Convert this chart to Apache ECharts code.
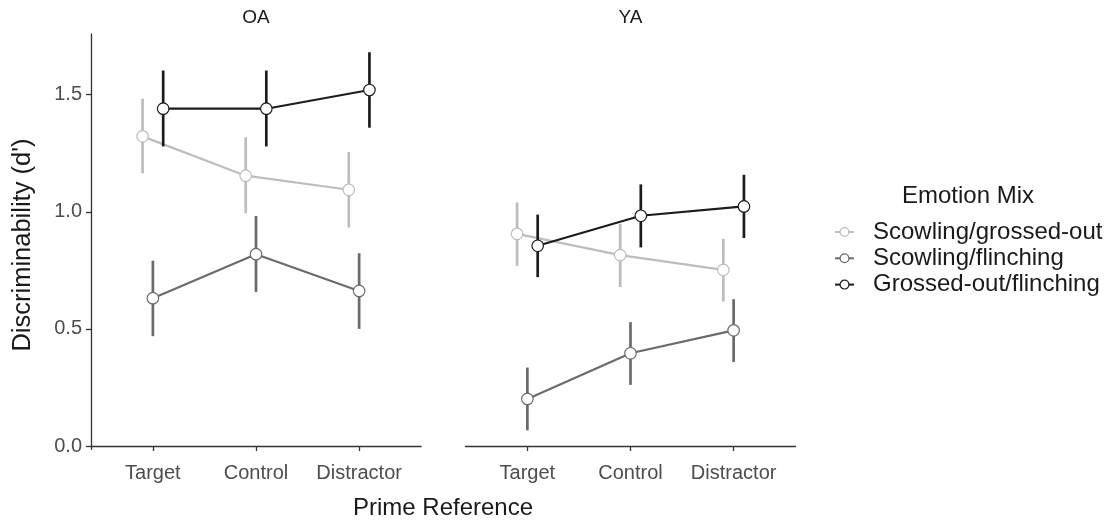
<!DOCTYPE html>
<html>
<head>
<meta charset="utf-8">
<script src="https://cdn.jsdelivr.net/npm/echarts@6/dist/echarts.min.js"></script>
<style>
html,body{margin:0;padding:0;background:#fff;}
#chart{width:1116px;height:523px;}
</style>
</head>
<body>
<div id="chart"></div>
<script>
// ---- data ----
const categories = ['Target', 'Control', 'Distractor'];
const panels = ['OA', 'YA'];
const emotions = ['Scowling/grossed-out', 'Scowling/flinching', 'Grossed-out/flinching'];
const yTicks = [0, 0.5, 1.0, 1.5];

// OA
const oaScowlGross = [1.322, 1.154, 1.094];
const oaScowlGrossLo = [1.164, 0.994, 0.933];
const oaScowlGrossHi = [1.483, 1.318, 1.255];
const oaScowlFlinch = [0.631, 0.819, 0.662];
const oaScowlFlinchLo = [0.469, 0.658, 0.500];
const oaScowlFlinchHi = [0.791, 0.982, 0.823];
const oaGrossFlinch = [1.440, 1.440, 1.520];
const oaGrossFlinchLo = [1.279, 1.279, 1.359];
const oaGrossFlinchHi = [1.603, 1.603, 1.681];
// YA
const yaScowlGross = [0.906, 0.815, 0.752];
const yaScowlGrossLo = [0.769, 0.679, 0.617];
const yaScowlGrossHi = [1.040, 0.949, 0.885];
const yaScowlFlinch = [0.201, 0.396, 0.494];
const yaScowlFlinchLo = [0.067, 0.261, 0.359];
const yaScowlFlinchHi = [0.335, 0.529, 0.627];
const yaGrossFlinch = [0.855, 0.983, 1.023];
const yaGrossFlinchLo = [0.721, 0.848, 0.888];
const yaGrossFlinchHi = [0.988, 1.117, 1.158];

const means = [[oaScowlGross, oaScowlFlinch, oaGrossFlinch], [yaScowlGross, yaScowlFlinch, yaGrossFlinch]];
const lows = [[oaScowlGrossLo, oaScowlFlinchLo, oaGrossFlinchLo], [yaScowlGrossLo, yaScowlFlinchLo, yaGrossFlinchLo]];
const highs = [[oaScowlGrossHi, oaScowlFlinchHi, oaGrossFlinchHi], [yaScowlGrossHi, yaScowlFlinchHi, yaGrossFlinchHi]];

// ---- style ----
const colors = ['#BDBDBD', '#6B6B6B', '#1C1C1C'];
const dodge = [-0.1, 0, 0.1];
const FONT = 'Liberation Sans';
const tickColor = '#4d4d4d';
const titleColor = '#1a1a1a';
const axisColor = '#333333';

const grids = [
  {left: 91, top: 34, width: 330, height: 415.3},
  {left: 465.5, top: 34, width: 330, height: 415.3}
];

const xAxes = grids.map((g, i) => ({
  type: 'value', gridIndex: i, min: 0.4, max: 3.6,
  axisLine: {show: true, lineStyle: {color: axisColor, width: 1.3}},
  axisTick: {show: true, length: 5, customValues: [1, 2, 3], lineStyle: {color: axisColor, width: 1.3}},
  axisLabel: {customValues: [1, 2, 3], formatter: v => categories[Math.round(v) - 1] || '',
    color: tickColor, fontSize: 20, fontFamily: FONT, margin: 14},
  splitLine: {show: false}
}));

const yAxes = grids.map((g, i) => ({
  type: 'value', gridIndex: i, min: -0.014, max: 1.759,
  axisLine: {show: i === 0, lineStyle: {color: axisColor, width: 1.3}},
  axisTick: {show: i === 0, length: 5, customValues: yTicks, lineStyle: {color: axisColor, width: 1.3}},
  axisLabel: {show: i === 0, customValues: yTicks, formatter: v => v.toFixed(1),
    color: tickColor, fontSize: 20, fontFamily: FONT, margin: 9},
  splitLine: {show: false}
}));

const series = [];
// lines
panels.forEach((p, pi) => {
  emotions.forEach((e, ei) => {
    series.push({
      type: 'line', name: e, xAxisIndex: pi, yAxisIndex: pi,
      data: means[pi][ei].map((m, ci) => [ci + 1 + dodge[ei], m]),
      symbol: 'none', z: 2, silent: true,
      lineStyle: {color: colors[ei], width: 2.2},
      itemStyle: {color: '#fff', borderColor: colors[ei], borderWidth: 1.2}
    });
  });
});
// error bars
panels.forEach((p, pi) => {
  emotions.forEach((e, ei) => {
    series.push({
      type: 'custom', name: 'err-' + p + '-' + ei, xAxisIndex: pi, yAxisIndex: pi, z: 3, silent: true,
      data: means[pi][ei].map((m, ci) => [ci + 1 + dodge[ei], lows[pi][ei][ci], highs[pi][ei][ci]]),
      encode: {x: 0, y: [1, 2]},
      renderItem: (params, api) => {
        const a = api.coord([api.value(0), api.value(1)]);
        const b = api.coord([api.value(0), api.value(2)]);
        return {type: 'line', shape: {x1: a[0], y1: a[1], x2: b[0], y2: b[1]},
          style: {stroke: colors[ei], lineWidth: 2.7}};
      }
    });
  });
});
// points
panels.forEach((p, pi) => {
  emotions.forEach((e, ei) => {
    series.push({
      type: 'scatter', name: 'pt-' + p + '-' + ei, xAxisIndex: pi, yAxisIndex: pi, z: 4, silent: true,
      data: means[pi][ei].map((m, ci) => [ci + 1 + dodge[ei], m]),
      symbol: 'circle', symbolSize: 11.5,
      itemStyle: {color: '#ffffff', borderColor: colors[ei], borderWidth: 1.2, opacity: 1}
    });
  });
});

const chart = echarts.init(document.getElementById('chart'), null, {renderer: 'canvas'});
chart.setOption({
  animation: false,
  backgroundColor: '#ffffff',
  textStyle: {fontFamily: FONT},
  grid: grids,
  xAxis: xAxes,
  yAxis: yAxes,
  legend: {
    orient: 'vertical', left: 834, top: 220, padding: 0,
    itemWidth: 19, itemHeight: 11, itemGap: 2.3,
    selectedMode: false,
    data: emotions.map((e, i) => ({
      name: e,
      itemStyle: {color: '#ffffff', borderColor: colors[i], borderWidth: 1.2},
      lineStyle: {color: colors[i], width: 2}
    })),
    textStyle: {fontSize: 24, fontFamily: FONT, color: titleColor, padding: [0, 0, 0, 14]}
  },
  graphic: [
    {type: 'text', x: 256, y: 17.5, style: {text: panels[0], fontSize: 19, fontFamily: FONT, fill: titleColor, align: 'center', verticalAlign: 'middle'}},
    {type: 'text', x: 630.5, y: 17.5, style: {text: panels[1], fontSize: 19, fontFamily: FONT, fill: titleColor, align: 'center', verticalAlign: 'middle'}},
    {type: 'text', x: 443, y: 508, style: {text: 'Prime Reference', fontSize: 24, fontFamily: FONT, fill: titleColor, align: 'center', verticalAlign: 'middle'}},
    {type: 'text', x: 23, y: 245, rotation: Math.PI / 2, style: {text: "Discriminability (d')", fontSize: 25.5, fontFamily: FONT, fill: titleColor, align: 'center', verticalAlign: 'middle'}},
    {type: 'text', x: 968, y: 196.5, style: {text: 'Emotion Mix', fontSize: 24, fontFamily: FONT, fill: titleColor, align: 'center', verticalAlign: 'middle'}}
  ],
  series: series
});
</script>
</body>
</html>
